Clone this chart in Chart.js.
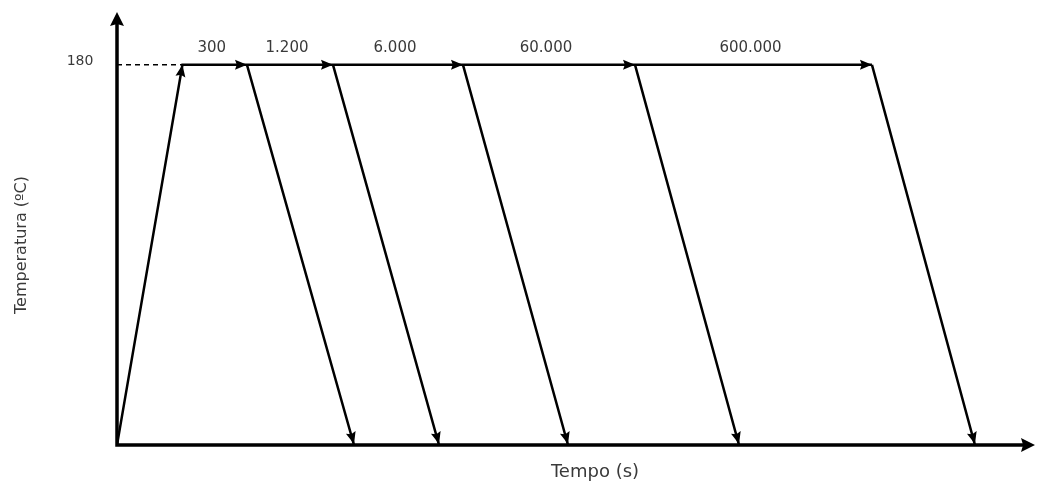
<!DOCTYPE html>
<html>
<head>
<meta charset="utf-8">
<script src="https://cdn.jsdelivr.net/npm/chart.js@4"></script>
<style>
  html, body { margin: 0; padding: 0; background: #fff; }
  #wrap { width: 1039px; height: 490px; }
</style>
</head>
<body>
<div id="wrap"><canvas id="ciclo"></canvas></div>
<script>
// heat treatment schedule: heat to 180 °C, hold, then quench after each holding time
const holdTemp = 180;
const holdLabels = ['300', '1.200', '6.000', '60.000', '600.000'];
const rampEnd = 7.13;                                  // end of heating ramp
const holdEnd = [14.16, 23.53, 37.69, 56.43, 82.24];   // end of each hold
const dropEnd = [25.82, 35.08, 49.13, 67.76, 93.46];   // quench reaches room level

const FONT = '"DejaVu Sans", sans-serif';
const TEXT = '#3a3a3a';

// heating ramp + holding line
const holdLine = [{ x: 0, y: 0 }, { x: rampEnd, y: holdTemp }]
  .concat(holdEnd.map(x => ({ x: x, y: holdTemp })));

// quench segments, split with null gaps
const quench = [];
holdEnd.forEach((x, i) => {
  quench.push({ x: x, y: holdTemp }, { x: dropEnd[i], y: 0 }, { x: dropEnd[i], y: null });
});

function arrowHead(ctx, x0, y0, x1, y1, len, half) {
  const a = Math.atan2(y1 - y0, x1 - x0);
  ctx.save();
  ctx.translate(x1, y1);
  ctx.rotate(a);
  ctx.beginPath();
  ctx.moveTo(0, 0);
  ctx.lineTo(-len, -half);
  ctx.lineTo(-len * 0.85, 0);
  ctx.lineTo(-len, half);
  ctx.closePath();
  ctx.fill();
  ctx.restore();
}

const decorations = {
  id: 'decorations',
  afterDatasetsDraw(chart) {
    const { ctx, chartArea: ca, scales: { x, y } } = chart;
    ctx.save();
    ctx.fillStyle = '#000';
    ctx.strokeStyle = '#000';

    // axes with arrows
    ctx.lineWidth = 3.5;
    ctx.beginPath();
    ctx.moveTo(ca.left, ca.top + 6);
    ctx.lineTo(ca.left, ca.bottom);
    ctx.lineTo(ca.right - 6, ca.bottom);
    ctx.stroke();
    arrowHead(ctx, ca.left, ca.bottom, ca.left, ca.top, 14, 7);
    arrowHead(ctx, ca.left, ca.bottom, ca.right, ca.bottom, 14, 7);

    // arrow tips on the schedule lines
    const yHold = y.getPixelForValue(holdTemp);
    const y0 = y.getPixelForValue(0);
    arrowHead(ctx, x.getPixelForValue(0), y0, x.getPixelForValue(rampEnd), yHold, 12, 5);
    let prev = rampEnd;
    holdEnd.forEach((h, i) => {
      arrowHead(ctx, x.getPixelForValue(prev), yHold, x.getPixelForValue(h), yHold, 12, 5);
      arrowHead(ctx, x.getPixelForValue(h), yHold, x.getPixelForValue(dropEnd[i]), y0 - 1, 12, 5);
      prev = h;
    });

    // holding time labels
    ctx.fillStyle = TEXT;
    ctx.textAlign = 'center';
    ctx.textBaseline = 'middle';
    ctx.font = '15px ' + FONT;
    prev = rampEnd;
    holdEnd.forEach((h, i) => {
      const cx = (x.getPixelForValue(prev) + x.getPixelForValue(h)) / 2;
      ctx.fillText(holdLabels[i], cx - 3, yHold - 17);
      prev = h;
    });

    // 180 mark on the temperature axis
    ctx.font = '14px ' + FONT;
    ctx.fillText(String(holdTemp), ca.left - 37, yHold - 3);

    // axis titles
    ctx.font = '18px ' + FONT;
    ctx.fillText('Tempo (s)', 595, ca.bottom + 27);
    ctx.save();
    ctx.translate(22, 245);
    ctx.rotate(-Math.PI / 2);
    ctx.font = '16px ' + FONT;
    ctx.fillText('Temperatura (ºC)', 0, 0);
    ctx.restore();

    ctx.restore();
  }
};

new Chart(document.getElementById('ciclo'), {
  type: 'scatter',
  data: {
    datasets: [
      {
        label: 'Aquecimento e patamar',
        data: holdLine,
        showLine: true,
        borderColor: '#000',
        borderWidth: 2.5,
        pointRadius: 0,
        tension: 0
      },
      {
        label: 'Resfriamento',
        data: quench,
        showLine: true,
        spanGaps: false,
        borderColor: '#000',
        borderWidth: 2.5,
        pointRadius: 0,
        tension: 0
      },
      {
        label: 'Referência 180',
        data: [{ x: 0, y: holdTemp }, { x: rampEnd, y: holdTemp }],
        showLine: true,
        borderColor: '#000',
        borderWidth: 1.5,
        borderDash: [5, 4],
        pointRadius: 0
      }
    ]
  },
  options: {
    responsive: true,
    maintainAspectRatio: false,
    animation: false,
    layout: { padding: { left: 117, right: 4, top: 12, bottom: 45 } },
    plugins: {
      legend: { display: false },
      tooltip: { enabled: false }
    },
    scales: {
      x: { type: 'linear', min: 0, max: 100, display: false },
      y: { type: 'linear', min: 0, max: 205, display: false }
    }
  },
  plugins: [decorations]
});
</script>
</body>
</html>
